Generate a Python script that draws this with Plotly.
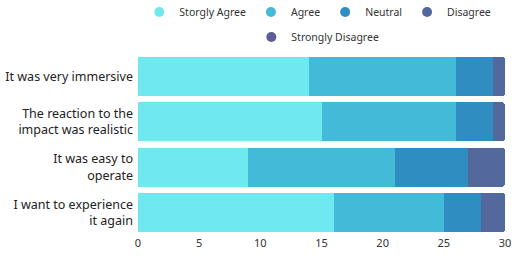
import plotly.graph_objects as go

categories = [
    "It was very immersive",
    "The reaction to the<br>impact was realistic",
    "It was easy to<br>operate",
    "I want to experience<br>it again",
]
series_names = ["Storgly Agree", "Agree", "Neutral", "Disagree", "Strongly Disagree"]
strongly_agree = [14, 15, 9, 16]
agree = [12, 11, 12, 9]
neutral = [3, 3, 6, 3]
disagree = [1, 1, 3, 2]
strongly_disagree = [0, 0, 0, 0]
x_ticks = [0, 5, 10, 15, 20, 25, 30]

colors = ["#6FE9EF", "#43BAD8", "#2F8DC1", "#53699D", "#5E5B97"]
values = [strongly_agree, agree, neutral, disagree, strongly_disagree]

FONT = "Noto Sans"
fig = go.Figure()
for name, vals, col in zip(series_names, values, colors):
    fig.add_trace(go.Bar(
        y=categories, x=vals, orientation="h", name=name,
        marker=dict(color=col, line=dict(width=0)),
        showlegend=False,
    ))
# legend entries with circular markers
for i, (name, col) in enumerate(zip(series_names, colors)):
    fig.add_trace(go.Scatter(
        x=[None], y=[None], mode="markers", name=name,
        marker=dict(color=col, size=10, symbol="circle"),
        legend="legend" if i < 4 else "legend2",
    ))

fig.update_layout(
    width=517, height=256,
    margin=dict(l=138, r=12, t=54, b=21, autoexpand=False),
    barmode="stack", bargap=0.14, barcornerradius=3,
    paper_bgcolor="white", plot_bgcolor="white",
    font=dict(family=FONT, size=11, color="#222"),
    legend=dict(orientation="h", x=0.49, xanchor="center", y=1.232, yanchor="middle",
                traceorder="normal",
                font=dict(size=10.5, color="#333"), itemwidth=30, bgcolor="rgba(0,0,0,0)"),
    legend2=dict(orientation="h", x=0.49, xanchor="center", y=1.094, yanchor="middle",
                 traceorder="normal",
                 font=dict(size=10.5, color="#333"), itemwidth=30, bgcolor="rgba(0,0,0,0)"),
    xaxis=dict(range=[0, 30], tickvals=x_ticks, showgrid=False, zeroline=False,
               showline=False, tickfont=dict(size=11, color="#333"), ticks="",
               automargin=False),
    yaxis=dict(categoryorder="array", categoryarray=categories, autorange="reversed",
               showgrid=False, zeroline=False, showline=False, automargin=False,
               tickfont=dict(size=12.5, color="#222"), ticks="", ticklabelstandoff=4),
)
fig.write_html("out.html")
